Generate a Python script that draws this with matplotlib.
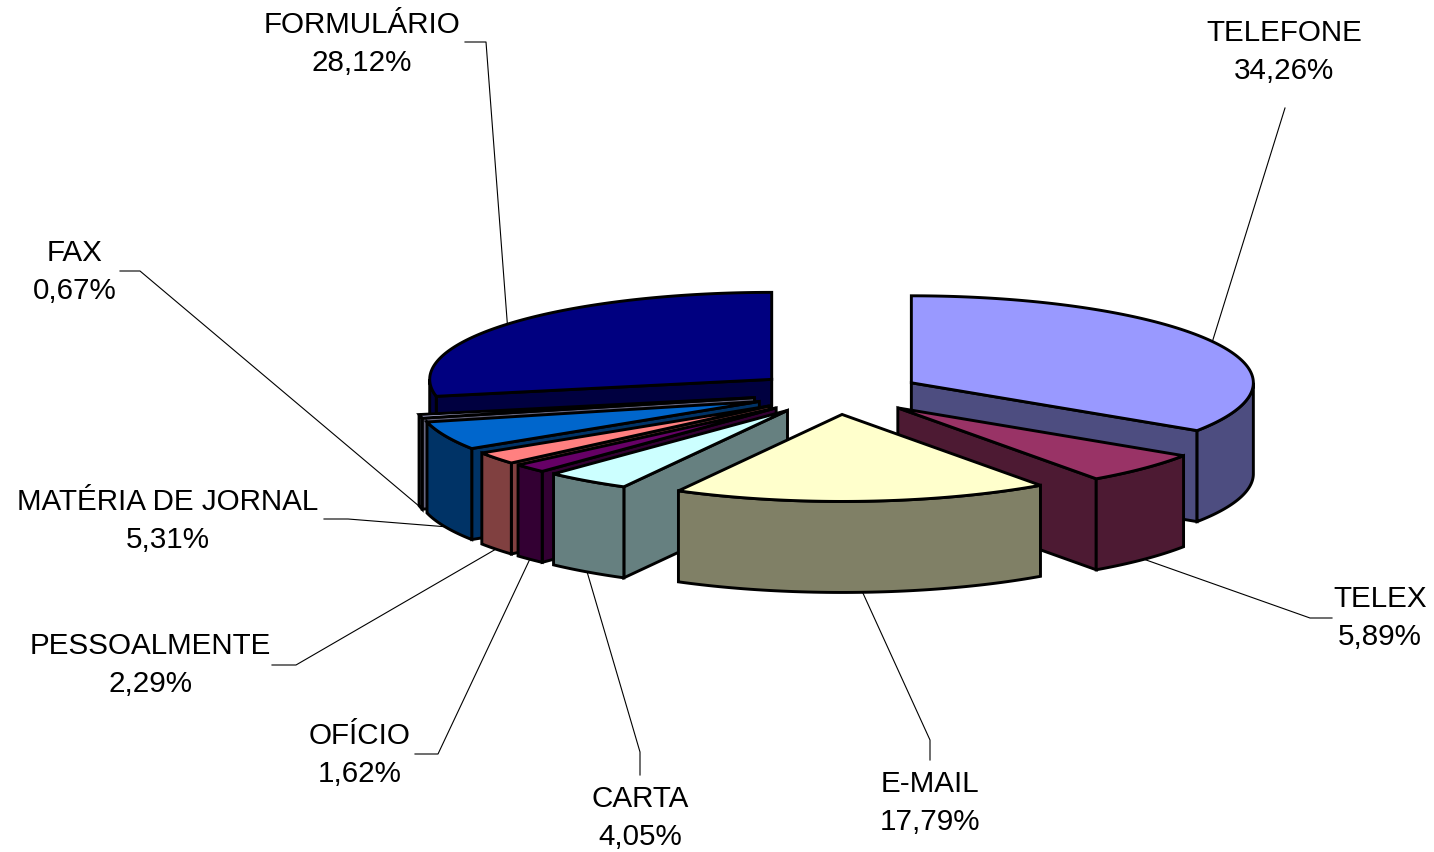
import numpy as np
import matplotlib
matplotlib.use('Agg')
import matplotlib.pyplot as plt
from matplotlib.patches import Polygon

plt.rcParams['font.family'] = ['Liberation Sans', 'DejaVu Sans']

# clockwise from 12 o'clock
categories = ['TELEFONE', 'TELEX', 'E-MAIL', 'CARTA', 'OFÍCIO', 'PESSOALMENTE',
              'MATÉRIA DE JORNAL', 'FAX', 'FORMULÁRIO']
values = [34.26, 5.89, 17.79, 4.05, 1.62, 2.29, 5.31, 0.67, 28.12]
top_colors = ['#9999ff', '#993366', '#ffffcc', '#ccffff', '#660066', '#ff8080',
              '#0066cc', '#ccccff', '#000080']
side_colors = ['#4d4d80', '#4d1a33', '#808066', '#668080', '#330033', '#804040',
               '#003366', '#666680', '#000040']

# pie geometry in pixels
cx, cy = 837, 393
rx, ry = 342, 87
depth = 91
explode = 0.247
lw = 2.1

# label centre, then elbow of the leader line
label_pos = [(1284, 52), (1380, 618), (930, 803), (640, 818), (360, 755),
             (150, 665), (168, 521), (75, 272), (362, 44)]
elbows = [[(1285, 108)], [(1310, 618), (1332, 618)], [(930, 740), (930, 760)],
          [(640, 752), (640, 775)], [(438, 754), (415, 754)],
          [(296, 665), (272, 665)], [(348, 519), (324, 519)],
          [(140, 271), (120, 271)], [(486, 42), (465, 42)]]

# back to front
draw_order = [8, 7, 6, 5, 4, 3, 0, 1, 2]


def ell(ax0, ay0, angle):
    a = np.radians(angle)
    return ax0 + rx * np.sin(a), ay0 - ry * np.cos(a)


def face(ax, pts, color):
    ax.add_patch(Polygon(pts, closed=True, facecolor=color, edgecolor='black',
                         linewidth=lw, joinstyle='miter'))


fig = plt.figure(figsize=(14.34, 8.52), dpi=100)
ax = fig.add_axes([0, 0, 1, 1])
ax.set_xlim(0, 1434)
ax.set_ylim(852, 0)
ax.axis('off')

ends = np.cumsum(values) / sum(values) * 360
starts = np.concatenate([[0], ends[:-1]])
mids = (starts + ends) / 2
apex_x = cx + explode * rx * np.sin(np.radians(mids))
apex_y = cy - explode * ry * np.cos(np.radians(mids))

# leader lines go under the slices
for i in range(len(values)):
    x, y = ell(apex_x[i], apex_y[i], mids[i])
    if 90 < mids[i] < 270:
        y += depth
    pts = [(x, y)] + elbows[i]
    ax.plot([p[0] for p in pts], [p[1] for p in pts], color='black', linewidth=0.8, zorder=1)

for i in draw_order:
    a1, a2 = starts[i], ends[i]
    ax0, ay0 = apex_x[i], apex_y[i]
    side, top = side_colors[i], top_colors[i]

    # radial walls, only the ones facing the viewer
    for ang, visible in ((a1, a1 > 180), (a2, a2 < 180)):
        if visible:
            x, y = ell(ax0, ay0, ang)
            face(ax, [(ax0, ay0), (x, y), (x, y + depth), (ax0, ay0 + depth)], side)

    # outer rim on the front half
    lo, hi = max(a1, 90), min(a2, 270)
    if lo < hi:
        t = np.linspace(lo, hi, 60)
        xs, ys = ell(ax0, ay0, t)
        rim = list(zip(xs, ys)) + list(zip(xs[::-1], ys[::-1] + depth))
        face(ax, rim, side)

    t = np.linspace(a1, a2, 120)
    xs, ys = ell(ax0, ay0, t)
    face(ax, [(ax0, ay0)] + list(zip(xs, ys)), top)

for name, val, (x, y) in zip(categories, values, label_pos):
    txt = f'{val:.2f}'.replace('.', ',') + '%'
    ax.text(x, y, f'{name}\n{txt}', ha='center', va='center', fontsize=21.3,
            linespacing=1.43, color='black')

fig.savefig('out.png', dpi=100)
